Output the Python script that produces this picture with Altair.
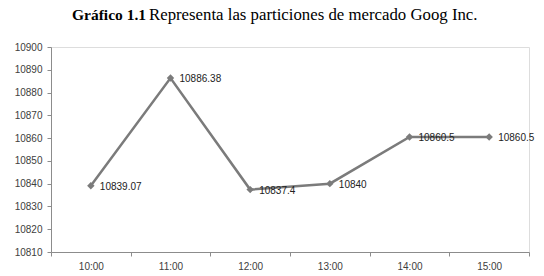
import altair as alt
import pandas as pd

times = ["10:00", "11:00", "12:00", "13:00", "14:00", "15:00"]
values = [10839.07, 10886.38, 10837.4, 10840, 10860.5, 10860.5]
labels = ["10839.07", "10886.38", "10837.4", "10840", "10860.5", "10860.5"]
y_ticks = [10810, 10820, 10830, 10840, 10850, 10860, 10870, 10880, 10890, 10900]
title_bold = "Gráfico 1.1"
title_rest = "Representa las particiones de mercado Goog Inc."

df = pd.DataFrame({"time": times, "value": values, "label": labels})

LINE = "#7b7b7b"
AXIS = "#8c8c8c"
TEXT = "#404040"

x_enc = alt.X(
    "time:O",
    sort=times,
    scale=alt.Scale(type="band", paddingInner=0, paddingOuter=0),
    axis=alt.Axis(
        title=None, labelAngle=0, tickBand="extent", domainColor=AXIS,
        tickColor=AXIS, tickSize=4, labelPadding=5, labelFont="Liberation Sans",
        labelFontSize=10, labelColor=TEXT, grid=False,
    ),
)
y_enc = alt.Y(
    "value:Q",
    scale=alt.Scale(domain=[10810, 10900], nice=False, zero=False),
    axis=alt.Axis(
        title=None, values=y_ticks, format="d", domainColor=AXIS, tickColor=AXIS,
        tickSize=4, labelPadding=5, labelFont="Liberation Sans", labelFontSize=10,
        labelColor=TEXT, grid=False,
    ),
)

base = alt.Chart(df).encode(x=x_enc, y=y_enc)

line = base.mark_line(color=LINE, strokeWidth=2.5)
pts = base.mark_point(shape="diamond", filled=True, color=LINE, size=55, opacity=1)
txt = base.mark_text(
    align="left", baseline="middle", dx=9, dy=1, font="Liberation Sans",
    fontSize=10, color="#222222",
).encode(text="label:N")

tdf = pd.DataFrame({"a": [title_bold], "b": [title_rest]})
t1 = alt.Chart(tdf).mark_text(
    align="left", baseline="alphabetic", font="Liberation Serif", fontSize=15.5,
    fontWeight="bold", color="#000000",
).encode(x=alt.value(21), y=alt.value(-27), text="a:N")
t2 = alt.Chart(tdf).mark_text(
    align="left", baseline="alphabetic", font="Liberation Serif", fontSize=16.8,
    color="#000000",
).encode(x=alt.value(98), y=alt.value(-27), text="b:N")

chart = alt.layer(line, pts, txt, t1, t2).properties(
    width=478,
    height=205,
    autosize=alt.AutoSizeParams(type="none"),
    padding={"left": 51, "top": 47, "right": 15, "bottom": 24},
).configure_view(stroke=None).configure(background="white")

chart.save("out.html", embed_options={"renderer": "svg", "actions": False})
